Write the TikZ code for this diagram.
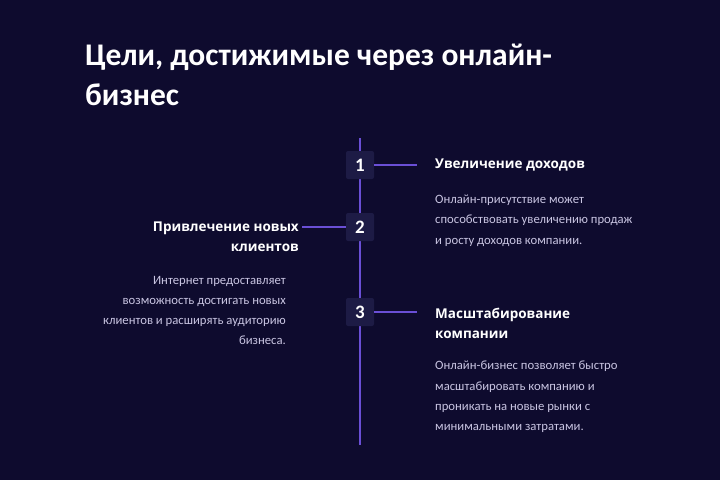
\documentclass[tikz,border=0pt]{standalone}
\usepackage{fontspec}
\setmainfont{Carlito}
\newfontfamily\headfont{Open Sans}
\definecolor{bgcol}{HTML}{0E0B2E}
\definecolor{linecol}{HTML}{6A4FD6}
\definecolor{boxcol}{HTML}{1D1B45}
\definecolor{bodycol}{HTML}{C9C5E2}
\tikzset{
  numbox/.style={fill=boxcol, rounded corners=2pt, minimum width=28pt, minimum height=28pt, text=white, font=\bfseries\fontsize{19}{19}\selectfont, inner sep=0pt},
  vline/.style={draw=linecol, line width=1.4pt},
  head/.style={text=white, font=\headfont\bfseries\fontsize{13.5}{20}\selectfont, inner sep=0pt},
  body/.style={text=bodycol, font=\fontsize{12.7}{20.2}\selectfont, inner sep=0pt},
  titlestyle/.style={text=white, font=\bfseries\fontsize{31.5}{40}\selectfont, inner sep=0pt, align=left, anchor=north west}
}
\begin{document}
\begin{tikzpicture}[x=1pt,y=-1pt]
\useasboundingbox (0,0) rectangle (720,480);
\fill[bgcol] (0,0) rectangle (720,480);
\node[titlestyle] (title) at (85,44) {Цели, достижимые через онлайн-\\бизнес};
\coordinate (top) at (360,138);
\coordinate (bot) at (360,445);
\draw[vline] (top) -- (bot);
\node[numbox] (n1) at (360,165) {1};
\node[numbox] (n2) at (360,227) {2};
\node[numbox] (n3) at (360,312) {3};
\coordinate (e1) at (417,165);
\coordinate (e2) at (302,227);
\coordinate (e3) at (417,312);
\draw[vline] (n1.east) -- (e1);
\draw[vline] (n2.west) -- (e2);
\draw[vline] (n3.east) -- (e3);
\node[head, anchor=west] (h1) at (435,165) {Увеличение доходов};
\node[body, anchor=north west, align=left] (b1) at (435,195) {Онлайн-присутствие может\\способствовать увеличению продаж\\и росту доходов компании.};
\node[head, anchor=north east, align=right] (h2) at (299,222) {Привлечение новых\\клиентов};
\node[body, anchor=north east, align=right] (b2) at (286,276) {Интернет предоставляет\\возможность достигать новых\\клиентов и расширять аудиторию\\бизнеса.};
\node[head, anchor=north west, align=left] (h3) at (435,308) {Масштабирование\\компании};
\node[body, anchor=north west, align=left] (b3) at (435,361) {Онлайн-бизнес позволяет быстро\\масштабировать компанию и\\проникать на новые рынки с\\минимальными затратами.};
\end{tikzpicture}
\end{document}
